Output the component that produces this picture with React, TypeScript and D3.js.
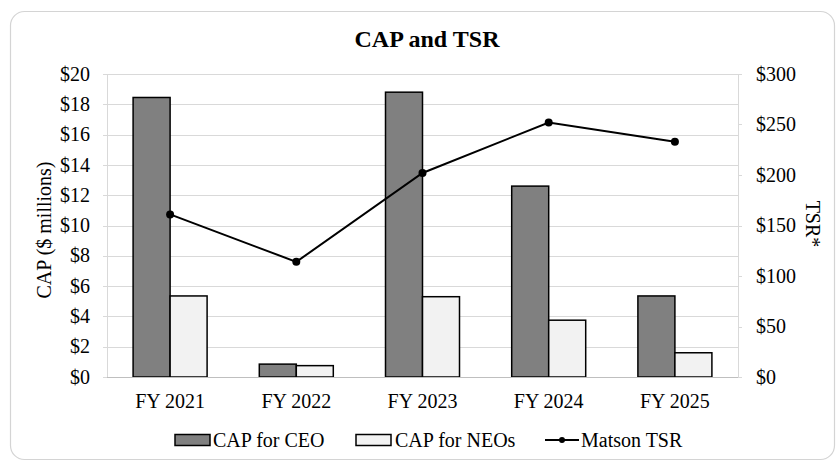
import React, { useEffect, useRef } from 'react';
import * as d3 from 'd3';

// chart values
const years = ['FY 2021', 'FY 2022', 'FY 2023', 'FY 2024', 'FY 2025'];
const capCeo = [18.45, 0.85, 18.8, 12.6, 5.35];
const capNeo = [5.35, 0.75, 5.3, 3.75, 1.6];
const matsonTsr = [161, 114, 202, 252, 233];
const leftTicks = [0, 2, 4, 6, 8, 10, 12, 14, 16, 18, 20];
const rightTicks = [0, 50, 100, 150, 200, 250, 300];

const W = 836;
const H = 461;
const FONT = "'Liberation Serif', 'Times New Roman', serif";
const FS = 20;

const App = () => {
  const svgRef = useRef<SVGSVGElement>(null);

  useEffect(() => {
    const svg = d3.select(svgRef.current);
    svg.selectAll('*').remove();

    const margin = { top: 74, right: 98, bottom: 84, left: 107 };
    const innerW = W - margin.left - margin.right;
    const innerH = H - margin.top - margin.bottom;

    // outer frame
    svg
      .append('rect')
      .attr('x', 10.5)
      .attr('y', 11.5)
      .attr('width', 824)
      .attr('height', 448)
      .attr('rx', 14)
      .attr('fill', 'white')
      .attr('stroke', '#d4d4d4')
      .attr('stroke-width', 1.2);

    svg
      .append('text')
      .attr('x', 427)
      .attr('y', 47)
      .attr('text-anchor', 'middle')
      .style('font-family', FONT)
      .attr('font-weight', 'bold')
      .attr('font-size', 24)
      .text('CAP and TSR');

    const x = d3.scaleBand().domain(years).range([0, innerW]).paddingInner(0).paddingOuter(0);
    const xSub = d3
      .scaleBand()
      .domain(['ceo', 'neo'])
      .range([x.bandwidth() / 2 - 37, x.bandwidth() / 2 + 37]);
    const yL = d3.scaleLinear().domain([0, 20]).range([innerH, 0]);
    const yR = d3.scaleLinear().domain([0, 300]).range([innerH, 0]);

    const g = svg.append('g').attr('transform', `translate(${margin.left},${margin.top})`);

    // gridlines
    g.selectAll('.grid')
      .data(leftTicks)
      .join('line')
      .attr('x1', 0)
      .attr('x2', innerW)
      .attr('y1', (d) => Math.round(yL(d)) + 0.5)
      .attr('y2', (d) => Math.round(yL(d)) + 0.5)
      .attr('stroke', '#d9d9d9')
      .attr('stroke-width', 1);

    g.append('line')
      .attr('x1', 0.5)
      .attr('x2', 0.5)
      .attr('y1', 0)
      .attr('y2', innerH)
      .attr('stroke', '#d9d9d9');
    g.append('line')
      .attr('x1', innerW + 0.5)
      .attr('x2', innerW + 0.5)
      .attr('y1', 0)
      .attr('y2', innerH)
      .attr('stroke', '#d9d9d9');

    // tick marks
    g.selectAll('.ltick')
      .data(leftTicks)
      .join('line')
      .attr('x1', -4)
      .attr('x2', 0)
      .attr('y1', (d) => Math.round(yL(d)) + 0.5)
      .attr('y2', (d) => Math.round(yL(d)) + 0.5)
      .attr('stroke', '#d9d9d9');
    g.selectAll('.rtick')
      .data(rightTicks)
      .join('line')
      .attr('x1', innerW)
      .attr('x2', innerW + 4)
      .attr('y1', (d) => Math.round(yR(d)) + 0.5)
      .attr('y2', (d) => Math.round(yR(d)) + 0.5)
      .attr('stroke', '#d9d9d9');

    // bars
    const groups = g
      .selectAll('.grp')
      .data(years)
      .join('g')
      .attr('transform', (d) => `translate(${x(d)},0)`);

    groups
      .append('rect')
      .attr('x', xSub('ceo')!)
      .attr('width', xSub.bandwidth())
      .attr('y', (_, i) => yL(capCeo[i]))
      .attr('height', (_, i) => innerH - yL(capCeo[i]))
      .attr('fill', '#808080')
      .attr('stroke', '#000')
      .attr('stroke-width', 1.5);

    groups
      .append('rect')
      .attr('x', xSub('neo')!)
      .attr('width', xSub.bandwidth())
      .attr('y', (_, i) => yL(capNeo[i]))
      .attr('height', (_, i) => innerH - yL(capNeo[i]))
      .attr('fill', '#f2f2f2')
      .attr('stroke', '#000')
      .attr('stroke-width', 1.5);

    // x axis line
    g.append('line')
      .attr('x1', 0)
      .attr('x2', innerW)
      .attr('y1', innerH + 0.5)
      .attr('y2', innerH + 0.5)
      .attr('stroke', '#bfbfbf');

    // TSR line
    const line = d3
      .line<number>()
      .x((_, i) => x(years[i])! + x.bandwidth() / 2)
      .y((d) => yR(d));
    g.append('path')
      .datum(matsonTsr)
      .attr('d', line)
      .attr('fill', 'none')
      .attr('stroke', '#000')
      .attr('stroke-width', 2);
    g.selectAll('.dot')
      .data(matsonTsr)
      .join('circle')
      .attr('cx', (_, i) => x(years[i])! + x.bandwidth() / 2)
      .attr('cy', (d) => yR(d))
      .attr('r', 4)
      .attr('fill', '#000');

    // axis labels
    g.selectAll('.ll')
      .data(leftTicks)
      .join('text')
      .attr('x', -17)
      .attr('y', (d) => yL(d))
      .attr('dy', '0.33em')
      .attr('text-anchor', 'end')
      .style('font-family', FONT)
      .attr('font-size', FS)
      .text((d) => `$${d}`);

    g.selectAll('.rl')
      .data(rightTicks)
      .join('text')
      .attr('x', innerW + 18)
      .attr('y', (d) => yR(d))
      .attr('dy', '0.33em')
      .style('font-family', FONT)
      .attr('font-size', FS)
      .text((d) => `$${d}`);

    g.selectAll('.xl')
      .data(years)
      .join('text')
      .attr('x', (d) => x(d)! + x.bandwidth() / 2)
      .attr('y', innerH + 31)
      .attr('text-anchor', 'middle')
      .style('font-family', FONT)
      .attr('font-size', FS)
      .text((d) => d);

    svg
      .append('text')
      .attr('transform', `translate(44,230) rotate(-90)`)
      .attr('dy', '0.33em')
      .attr('text-anchor', 'middle')
      .style('font-family', FONT)
      .attr('font-size', FS)
      .text('CAP ($ millions)');

    svg
      .append('text')
      .attr('transform', `translate(813,224) rotate(90)`)
      .attr('dy', '0.33em')
      .attr('text-anchor', 'middle')
      .style('font-family', FONT)
      .attr('font-size', FS)
      .text('TSR*');

    // legend
    const leg = svg.append('g');
    const ly = 440;
    leg.append('rect').attr('x', 175).attr('y', ly - 5.5).attr('width', 35).attr('height', 11)
      .attr('fill', '#808080').attr('stroke', '#000').attr('stroke-width', 1.5);
    leg.append('text').attr('x', 213).attr('y', ly).attr('dy', '0.33em')
      .style('font-family', FONT).attr('font-size', FS).text('CAP for CEO');
    leg.append('rect').attr('x', 356).attr('y', ly - 5.5).attr('width', 35).attr('height', 11)
      .attr('fill', '#f2f2f2').attr('stroke', '#000').attr('stroke-width', 1.5);
    leg.append('text').attr('x', 395).attr('y', ly).attr('dy', '0.33em')
      .style('font-family', FONT).attr('font-size', FS).text('CAP for NEOs');
    leg.append('line').attr('x1', 545).attr('x2', 579).attr('y1', ly).attr('y2', ly)
      .attr('stroke', '#000').attr('stroke-width', 2);
    leg.append('circle').attr('cx', 562).attr('cy', ly).attr('r', 3).attr('fill', '#000');
    leg.append('text').attr('x', 581).attr('y', ly).attr('dy', '0.33em')
      .style('font-family', FONT).attr('font-size', FS).text('Matson TSR');
  }, []);

  return (
    <svg
      ref={svgRef}
      width={W}
      height={H}
      style={{ position: 'absolute', left: 0, top: 0, display: 'block', fontFamily: FONT }}
    />
  );
};

export default App;
